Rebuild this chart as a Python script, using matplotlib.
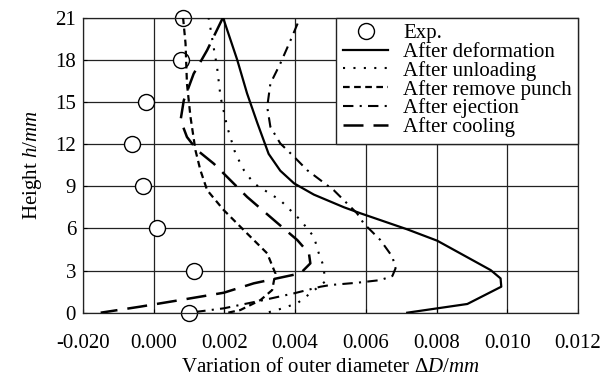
import matplotlib
matplotlib.use("Agg")
import matplotlib.pyplot as plt
from matplotlib.lines import Line2D

plt.rcParams['font.family'] = ['Liberation Serif', 'DejaVu Serif']
plt.rcParams['mathtext.fontset'] = 'custom'
plt.rcParams['mathtext.rm'] = 'Liberation Serif'
plt.rcParams['mathtext.it'] = 'Liberation Serif:italic'

# ---- data ----
exp_h = [21, 18, 15, 12, 9, 6, 3, 0]
exp_d = [0.00083, 0.00078, -0.00022, -0.00061, -0.00030, 0.00008, 0.00114, 0.00101]

deform_h = [21, 18, 15.6, 13.5, 11.3, 10.1, 9.2, 8.4, 7.5, 7.07, 5.93, 5.12, 3.03, 2.44, 1.85, 0.62, 0]
deform_d = [0.00196, 0.00236, 0.00264, 0.00293, 0.00325, 0.00358, 0.00397, 0.00453, 0.00538,
            0.00585, 0.00717, 0.00802, 0.00953, 0.00981, 0.00983, 0.00887, 0.00717]

unload_h = [21, 20.3, 18.8, 17.5, 15.35, 13.2, 11.33, 10.14, 9.2, 8.0, 6.59, 5.4, 4.22, 3.27,
            2.2, 1.38, 0.67, 0.19, 0]
unload_d = [0.00155, 0.0016, 0.0017, 0.00179, 0.00189, 0.00208, 0.00231, 0.00255, 0.00283, 0.00358,
            0.00415, 0.00453, 0.00467, 0.00481, 0.00484, 0.00443, 0.00406, 0.00349, 0.0032]

punch_h = [21, 19.15, 16.3, 13.93, 11.56, 10.14, 8.72, 7.3, 5.64, 4.22, 2.8, 1.61, 0.9, 0.19, 0]
punch_d = [0.00083, 0.0009, 0.00094, 0.00104, 0.00118, 0.00132, 0.00151, 0.00198, 0.00264,
           0.00321, 0.00344, 0.00335, 0.00302, 0.00245, 0.0021]

eject_h = [20.57, 19.38, 17.72, 16.3, 14.64, 13.22, 12.04, 11.09, 10.14, 8.72, 7.07, 6.35, 5.17,
           3.98, 3.16, 2.61, 2.32, 2.13, 1.97, 1.85, 1.38, 0.9, 0.31, 0.07]
eject_d = [0.00407, 0.00387, 0.00358, 0.0033, 0.00321, 0.0033, 0.00358, 0.00397, 0.00434, 0.00509,
           0.00575, 0.00594, 0.00641, 0.00675, 0.00684, 0.00675, 0.00641, 0.00575, 0.005, 0.00472,
           0.00397, 0.00311, 0.00198, 0.00123]

cool_h = [21, 18.67, 17.0, 15.1, 13.7, 12.5, 11.56, 10.6, 9.9, 8.24, 6.59, 5.17, 4.22, 3.51, 2.8,
          2.09, 1.42, 0.9, 0.43, 0]
cool_d = [0.00196, 0.00151, 0.00113, 0.00085, 0.00076, 0.00094, 0.00123, 0.0017, 0.00198, 0.00264,
          0.0034, 0.00406, 0.00439, 0.00443, 0.00415, 0.00283, 0.00198, 0.00075, -0.00038, -0.0015]

x_ticks = [-0.002, 0.0, 0.002, 0.004, 0.006, 0.008, 0.010, 0.012]
x_tick_labels = ['-0.020', '0.000', '0.002', '0.004', '0.006', '0.008', '0.010', '0.012']
y_ticks = [0, 3, 6, 9, 12, 15, 18, 21]

labels = ['Exp.', 'After deformation', 'After unloading', 'After remove punch',
          'After ejection', 'After cooling']

# ---- figure ----
fig = plt.figure(figsize=(6.01, 3.78), dpi=100)
ax = fig.add_axes([83/601, 1 - 312.7/378, (578 - 83)/601, (312.7 - 17.5)/378])

ax.set_xlim(-0.002, 0.012)
ax.set_ylim(0, 21)
ax.set_xticks(x_ticks)
ax.set_xticklabels(x_tick_labels)
ax.set_yticks(y_ticks)
ax.tick_params(labelsize=15, direction='in', length=3, width=0.8)
ax.tick_params(axis='x', pad=15)
ax.tick_params(axis='y', pad=5)
ax.grid(True, color='#222222', lw=0.9, zorder=0.5)
ax.set_axisbelow(True)
for s in ax.spines.values():
    s.set_color('#222222')
    s.set_linewidth(0.9)

ax.plot(exp_d, exp_h, 'o', ms=11.5, mfc='white', mec='black', mew=1.0, zorder=2, clip_on=False)
ax.plot(deform_d, deform_h, color='black', lw=1.6, ls='-', zorder=3)
ax.plot(unload_d, unload_h, color='black', lw=1.5, ls=(0, (1, 4)), zorder=3)
ax.plot(punch_d, punch_h, color='black', lw=1.6, ls=(0, (3, 2)), zorder=3)
ax.plot(eject_d, eject_h, color='black', lw=1.5, ls=(0, (5, 3, 1, 3)), zorder=3)
ax.plot(cool_d, cool_h, color='black', lw=1.8, ls=(0, (8, 4)), zorder=3)

ax.set_ylabel('Height $\\mathit{h/mm}$', fontsize=15, labelpad=8)
ax.set_xlabel('Variation of outer diameter Δ$\\mathit{D/mm}$', fontsize=15, labelpad=4)

handles = [
    Line2D([], [], ls='none', marker='o', ms=11.5, mfc='white', mec='black', mew=1.0),
    Line2D([], [], color='black', lw=1.6, ls='-'),
    Line2D([], [], color='black', lw=1.5, ls=(0, (1, 4))),
    Line2D([], [], color='black', lw=1.6, ls=(0, (3, 2))),
    Line2D([], [], color='black', lw=1.5, ls=(0, (5, 3, 1, 3))),
    Line2D([], [], color='black', lw=1.8, ls=(0, (8, 4))),
]
leg = ax.legend(handles, labels, loc='upper right', bbox_to_anchor=(1, 1), borderaxespad=0,
                fontsize=15, frameon=True, fancybox=False, edgecolor='#222222',
                handlelength=2.2, handletextpad=0.7, labelspacing=-0.05, borderpad=0.3,
                framealpha=1)
leg.get_frame().set_linewidth(1.0)
leg.set_zorder(5)

fig.savefig('out.png', dpi=100)
